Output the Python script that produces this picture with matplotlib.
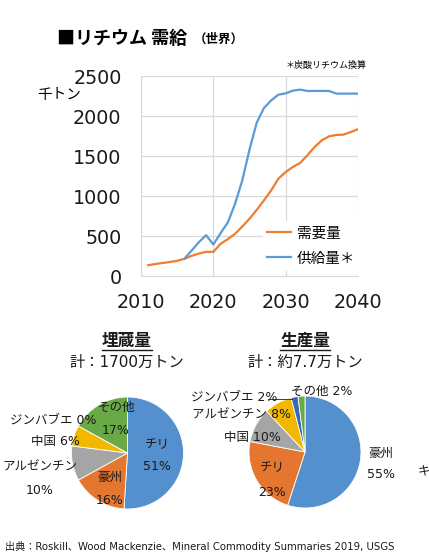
"""
リチウム需給 (world) chart with reserve / production pies
"""

import matplotlib
matplotlib.use('Agg')
import matplotlib.pyplot as plt

plt.rcParams['font.family'] = ['DejaVu Sans', 'Noto Sans CJK JP']

W, H = 429, 554

# --- line chart data (千トン) ---
demand_years = list(range(2011, 2041))
demand = [135, 150, 163, 175, 190, 215, 252, 281, 302, 302,
          402, 460, 527, 619, 715, 827, 946, 1071, 1217, 1300,
          1363, 1413, 1509, 1613, 1696, 1746, 1763, 1767, 1800, 1834]

supply_years = list(range(2016, 2041))
supply = [215, 319, 423, 510, 394, 535, 669, 902, 1194, 1580,
          1917, 2100, 2196, 2267, 2283, 2317, 2330, 2313, 2313, 2313,
          2313, 2280, 2280, 2280, 2280]

x_ticks = [2010, 2020, 2030, 2040]
y_ticks = [0, 500, 1000, 1500, 2000, 2500]

# --- pie data ---
reserve_labels = ['チリ', '豪州', 'アルゼンチン', '中国', 'ジンバブエ', 'その他']
reserve_share = [51, 16, 10, 6, 0, 17]

prod_labels = ['豪州', 'チリ', '中国', 'アルゼンチン', 'ジンバブエ', 'その他']
prod_share = [55, 23, 10, 8, 2, 2]

C_BLUE = '#5590CE'
C_ORANGE = '#E4762F'
C_GRAY = '#A5A5A5'
C_YELLOW = '#F2B800'
C_DBLUE = '#3A68B8'
C_GREEN = '#6AAA46'

reserve_colors = [C_BLUE, C_ORANGE, C_GRAY, C_YELLOW, C_DBLUE, C_GREEN]
prod_colors = [C_BLUE, C_ORANGE, C_GRAY, C_YELLOW, C_DBLUE, C_GREEN]


def fx(px):
    return px / W


def fy(py):
    return 1 - py / H


fig = plt.figure(figsize=(W / 100, H / 100), dpi=100)

# ---------------- line chart ----------------
ax = fig.add_axes([fx(141), fy(276), fx(217), 200 / H])
ax.plot(demand_years, demand, color='#ED7D31', linewidth=1.6, label='需要量')
ax.plot(supply_years, supply, color='#5B9BD5', linewidth=1.6, label='供給量＊')
ax.set_xlim(2010, 2040)
ax.set_ylim(0, 2500)
ax.set_xticks(x_ticks)
ax.set_yticks(y_ticks)
ax.grid(True, color='#D9D9D9', linewidth=0.9)
ax.set_axisbelow(True)
for s in ['top', 'right']:
    ax.spines[s].set_visible(False)
for s in ['left', 'bottom']:
    ax.spines[s].set_color('#D9D9D9')
ax.tick_params(length=0, labelsize=13.8, colors='#1a1a1a')
ax.tick_params(axis='y', pad=14)
ax.tick_params(axis='x', pad=12)

leg = ax.legend(loc='upper left', bbox_to_anchor=(fx(263), fy(221)),
                bbox_transform=fig.transFigure, fontsize=10.5,
                frameon=True, facecolor='white', edgecolor='white',
                framealpha=1, fancybox=False, handlelength=1.6,
                handletextpad=0.4, labelspacing=0.7, borderpad=0.3,
                borderaxespad=0)

fig.text(fx(57), fy(38), '■リチウム 需給', fontsize=13, fontweight='bold',
         va='center', ha='left', family='Noto Sans CJK JP')
fig.text(fx(194), fy(39), '（世界）', fontsize=9, fontweight='bold',
         va='center', ha='left', family='Noto Sans CJK JP')
fig.text(fx(59), fy(95), '千トン', fontsize=10.5, va='center', ha='center')
fig.text(fx(367), fy(65), '＊炭酸リチウム換算', fontsize=6.5, va='center', ha='right')

# ---------------- pies ----------------
R = 56


def make_pie(cx, cy, shares, colors):
    pa = fig.add_axes([fx(cx - R), fy(cy + R), 2 * R / W, 2 * R / H])
    pa.pie(shares, colors=colors, startangle=90, counterclock=False,
           wedgeprops=dict(edgecolor='white', linewidth=0.6))
    pa.set_xlim(-1, 1)
    pa.set_ylim(-1, 1)
    pa.set_aspect('auto')
    return pa


make_pie(127.5, 453, reserve_share, reserve_colors)
make_pie(305, 452, prod_share, prod_colors)

LS = 9


def lab(x, y, s, **kw):
    fig.text(fx(x), fy(y), s, fontsize=kw.pop('fontsize', LS), ha='center',
             va='center', color='#1a1a1a', **kw)


# reserve pie labels
lab(157, 445, reserve_labels[0])
lab(157, 466, f'{reserve_share[0]}%')
lab(110, 477, reserve_labels[1])
lab(110, 500, f'{reserve_share[1]}%')
lab(40, 467, reserve_labels[2])
lab(40, 490, f'{reserve_share[2]}%')
lab(55, 441, f'{reserve_labels[3]} {reserve_share[3]}%')
lab(53, 420, f'{reserve_labels[4]} {reserve_share[4]}%')
lab(116, 407, reserve_labels[5])
lab(116, 430, f'{reserve_share[5]}%')

# production pie labels
lab(381, 453, prod_labels[0])
lab(381, 475, f'{prod_share[0]}%')
lab(272, 468, prod_labels[1])
lab(272, 492, f'{prod_share[1]}%')
lab(252, 437, f'{prod_labels[2]} {prod_share[2]}%')
lab(242, 415, f'{prod_labels[3]} {prod_share[3]}%')
lab(234, 397, f'{prod_labels[4]} {prod_share[4]}%')
lab(322, 391, f'{prod_labels[5]} {prod_share[5]}%')
fig.add_artist(plt.Line2D([fx(268), fx(292)], [fy(399), fy(399)],
                          color='#404040', linewidth=0.7))
lab(424, 472, 'キ')

# pie titles
lab(127, 341, '埋蔵量', fontsize=12, fontweight='bold', family='Noto Sans CJK JP')
lab(305, 341, '生産量', fontsize=12, fontweight='bold', family='Noto Sans CJK JP')
for x0 in (127, 305):
    fig.add_artist(plt.Line2D([fx(x0 - 25), fx(x0 + 25)], [fy(350), fy(350)],
                              color='#1a1a1a', linewidth=1.0))
lab(127, 362, '計：1700万トン', fontsize=11)
lab(305, 362, '計：約7.7万トン', fontsize=11)

fig.text(fx(5), fy(547), '出典：Roskill、Wood Mackenzie、Mineral Commodity Summaries 2019, USGS',
         fontsize=7.3, ha='left', va='center', color='#1a1a1a')

fig.savefig('out.png', dpi=100, facecolor='white')
plt.close(fig)
